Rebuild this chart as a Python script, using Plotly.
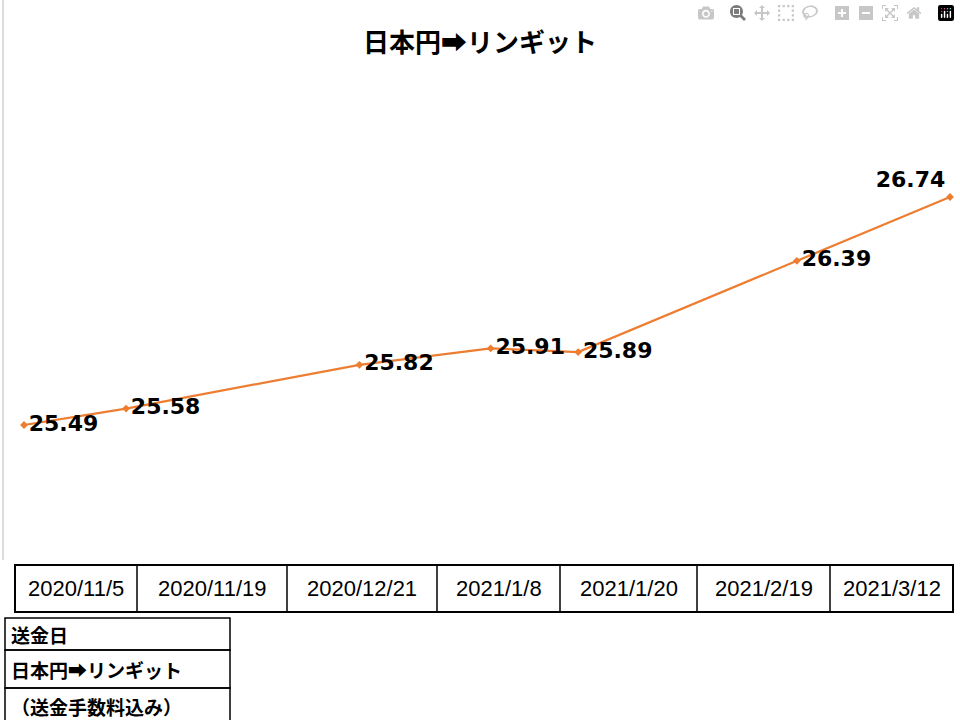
import plotly.graph_objects as go
import pandas as pd

dates = ["2020-11-05","2020-11-19","2020-12-21","2021-01-08","2021-01-20","2021-02-19","2021-03-12"]
date_labels = ["2020/11/5","2020/11/19","2020/12/21","2021/1/8","2021/1/20","2021/2/19","2021/3/12"]
rates = [25.49,25.58,25.82,25.91,25.89,26.39,26.74]
row_labels = ["送金日","日本円➡リンギット","（送金手数料込み）"]

W, H = 960, 720
d = pd.to_datetime(dates)
span = (d[-1]-d[0]) / (950-24)
xr = [d[0] - span*24, d[-1] + span*10]
ppu = (425-197)/(rates[-1]-rates[0])
yr = [rates[0] - (H-425)/ppu, rates[0] + 425/ppu]

pos = ["middle right"]*6 + ["top left"]
fig = go.Figure(go.Scatter(
    x=d, y=rates, mode="lines+markers+text",
    line=dict(color="#ED7D31", width=2.2),
    marker=dict(symbol="diamond", size=6, color="#ED7D31"),
    text=[f"{v:.2f}" for v in rates], textposition=pos,
    textfont=dict(family="DejaVu Sans", size=22, color="black", weight="bold"),
    cliponaxis=False, hoverinfo="skip"))

def px(x): return x / W
def py(y): return 1 - y / H
shapes = [dict(type="line", xref="paper", yref="paper", x0=px(3), x1=px(3), y0=py(0), y1=py(560),
               line=dict(color="#bbb", width=1))]
anns = []
cols = [15,137,287,437,560,697,830,953]
shapes.append(dict(type="rect", xref="paper", yref="paper", x0=px(15), x1=px(953), y0=py(612), y1=py(565),
                   line=dict(color="black", width=2)))
for i, lab in enumerate(date_labels):
    if i > 0:
        shapes.append(dict(type="line", xref="paper", yref="paper", x0=px(cols[i]), x1=px(cols[i]),
                           y0=py(612), y1=py(565), line=dict(color="black", width=1.5)))
    anns.append(dict(xref="paper", yref="paper", x=px((cols[i]+cols[i+1])/2), y=py(588), text=lab,
                     xanchor="center", yanchor="middle", showarrow=False,
                     font=dict(family="Liberation Sans", size=22, color="black")))
rows = [(618,650),(650,688),(688,725)]
for i, (a, b) in enumerate(rows):
    shapes.append(dict(type="rect", xref="paper", yref="paper", x0=px(5), x1=px(230), y0=py(b), y1=py(a),
                       line=dict(color="black", width=1.5)))
    anns.append(dict(xref="paper", yref="paper", x=px(9), y=py((a+b)/2), xanchor="left", yanchor="middle",
                     text=row_labels[i], showarrow=False,
                     font=dict(family="Noto Sans CJK JP", size=19, color="black", weight="bold")))
anns.append(dict(xref="paper", yref="paper", x=0.5, y=py(40), xanchor="center", yanchor="middle",
                 text="日本円➡リンギット", showarrow=False,
                 font=dict(family="Noto Sans CJK JP", size=26, color="black", weight="bold")))

fig.update_layout(width=W, height=H, margin=dict(l=0, r=0, t=0, b=0),
                  paper_bgcolor="white", plot_bgcolor="white", showlegend=False,
                  xaxis=dict(range=xr, visible=False, type="date"),
                  yaxis=dict(range=yr, visible=False),
                  shapes=shapes, annotations=anns)
fig.write_html("out.html", post_script="document.body.style.margin='0';document.body.style.overflow='hidden';")
